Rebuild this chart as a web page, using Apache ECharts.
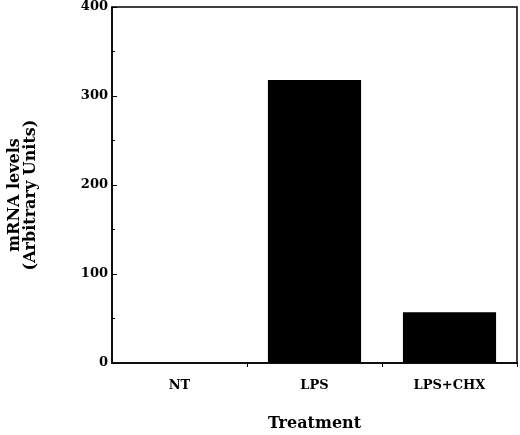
<!DOCTYPE html>
<html>
<head>
<meta charset="utf-8">
<script src="https://cdn.jsdelivr.net/npm/echarts@6/dist/echarts.min.js"></script>
<style>html,body{margin:0;padding:0;background:#fff;}#c{width:520px;height:435px;}</style>
</head>
<body>
<div id="c"></div>
<script>
const categories = ['NT', 'LPS', 'LPS+CHX'];
const mrnaLevels = [0, 318, 57];
const yTicks = [0, 100, 200, 300, 400];

const FONT = '"DejaVu Serif", serif';
const chart = echarts.init(document.getElementById('c'), null, {renderer: 'canvas'});
chart.setOption({
  animation: false,
  backgroundColor: '#fff',
  grid: {left: 112, right: 3, top: 7, bottom: 72, show: true, borderColor: '#000', borderWidth: 1.5, containLabel: false, outerBoundsMode: 'none'},
  xAxis: {
    type: 'category',
    data: categories,
    boundaryGap: true,
    name: 'Treatment',
    nameLocation: 'middle',
    nameGap: 53,
    nameTextStyle: {fontFamily: FONT, fontWeight: 'bold', fontSize: 16, color: '#000'},
    axisLine: {lineStyle: {color: '#000', width: 1.5}},
    axisTick: {show: true, length: 4, lineStyle: {color: '#000', width: 1}, interval: function (i) { return i > 0; }},
    axisLabel: {fontFamily: FONT, fontWeight: 'bold', fontSize: 13, color: '#000', margin: 16},
    splitLine: {show: false}
  },
  yAxis: {
    type: 'value',
    min: yTicks[0],
    max: yTicks[yTicks.length - 1],
    interval: 100,
    name: 'mRNA levels\n(Arbitrary Units)',
    nameLocation: 'middle',
    nameGap: 73,
    nameTextStyle: {fontFamily: FONT, fontWeight: 'bold', fontSize: 16, color: '#000', lineHeight: 16, padding: [0, 20, 0, 0]},
    axisLine: {show: true, lineStyle: {color: '#000', width: 1.5}},
    axisTick: {show: true, inside: true, length: 5, lineStyle: {color: '#000', width: 1}},
    minorTick: {show: true, splitNumber: 2, length: 3, lineStyle: {color: '#000', width: 1}},
    axisLabel: {fontFamily: FONT, fontWeight: 'bold', fontSize: 13, color: '#000', margin: 4},
    splitLine: {show: false},
    minorSplitLine: {show: false}
  },
  series: [{
    type: 'bar',
    data: mrnaLevels,
    barWidth: '69%',
    itemStyle: {color: '#000'}
  }]
});
</script>
</body>
</html>
